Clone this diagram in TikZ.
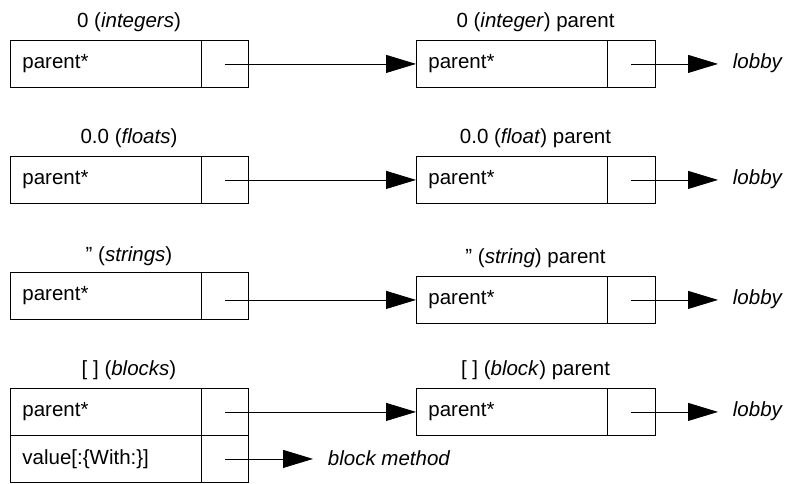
\documentclass[tikz,border=0pt]{standalone}
\usepackage{fontspec}
\setmainfont{Liberation Sans}
\usetikzlibrary{arrows.meta}
\begin{document}
\begin{tikzpicture}[x=1pt,y=-1pt, line width=0.85pt,
  every node/.style={font=\fontsize{20.5}{24}\selectfont},
  maincell/.style={draw, rectangle, anchor=north west, minimum height=47pt,
    text width=167pt, inner xsep=12pt, inner ysep=0pt, align=left},
  ptrcell/.style={draw, rectangle, anchor=north west, minimum width=47pt,
    minimum height=47pt, inner sep=0pt},
  lbl/.style={anchor=base, inner sep=0pt},
  target/.style={anchor=west, inner xsep=14.5pt, inner ysep=0pt},
  arr/.style={-{Triangle[length=30pt,width=18pt]}}]
\useasboundingbox (0,0) rectangle (785,483);

% row 1: integers
\node[lbl] (ll1) at (129,27) {0 (\textit{integers})};
\node[maincell] (lm1) at (10,40) {parent*};
\node[ptrcell] (lp1) at (201,40) {};
\node[lbl] (rl1) at (535.5,27) {0 (\textit{integer}) parent};
\node[maincell] (rm1) at (416,40) {parent*};
\node[ptrcell, minimum width=48pt] (rp1) at (607,40) {};
\node[target] (lob1) at (718,63.5) {\textit{lobby}};
\draw[arr] (lp1.center |- rm1.west) -- (rm1.west);
\draw[arr] (rp1.center) -- (rp1.center -| lob1.west);

% row 2: floats
\node[lbl] (ll2) at (129,143) {0.0 (\textit{floats})};
\node[maincell] (lm2) at (10,156) {parent*};
\node[ptrcell] (lp2) at (201,156) {};
\node[lbl] (rl2) at (535.5,143) {0.0 (\textit{float}) parent};
\node[maincell] (rm2) at (416,156) {parent*};
\node[ptrcell, minimum width=48pt] (rp2) at (607,156) {};
\node[target] (lob2) at (718,179.5) {\textit{lobby}};
\draw[arr] (lp2.center |- rm2.west) -- (rm2.west);
\draw[arr] (rp2.center) -- (rp2.center -| lob2.west);

% row 3: strings
\node[lbl] (ll3) at (129,261) {” (\textit{strings})};
\node[maincell] (lm3) at (10,272) {parent*};
\node[ptrcell] (lp3) at (201,272) {};
\node[lbl] (rl3) at (535.5,263) {” (\textit{string}) parent};
\node[maincell] (rm3) at (416,276) {parent*};
\node[ptrcell, minimum width=48pt] (rp3) at (607,276) {};
\node[target] (lob3) at (718,299.5) {\textit{lobby}};
\draw[arr] (lp3.center |- rm3.west) -- (rm3.west);
\draw[arr] (rp3.center) -- (rp3.center -| lob3.west);

% row 4: blocks
\node[lbl] (ll4) at (129,375.5) {[ ] (\textit{blocks})};
\node[maincell] (lm4) at (10,388) {parent*};
\node[ptrcell] (lp4) at (201,388) {};
\node[maincell] (lm4b) at (10,435) {value[:\{With:\}]};
\node[ptrcell] (lp4b) at (201,435) {};
\node[lbl] (rl4) at (535.5,375.5) {[ ] (\textit{block}) parent};
\node[maincell] (rm4) at (416,388) {parent*};
\node[ptrcell, minimum width=48pt] (rp4) at (607,388) {};
\node[target] (lob4) at (718,411.5) {\textit{lobby}};
\node[target] (bm) at (313,458.5) {\textit{block method}};
\draw[arr] (lp4.center |- rm4.west) -- (rm4.west);
\draw[arr] (rp4.center) -- (rp4.center -| lob4.west);
\draw[arr] (lp4b.center) -- (lp4b.center -| bm.west);
\end{tikzpicture}
\end{document}
